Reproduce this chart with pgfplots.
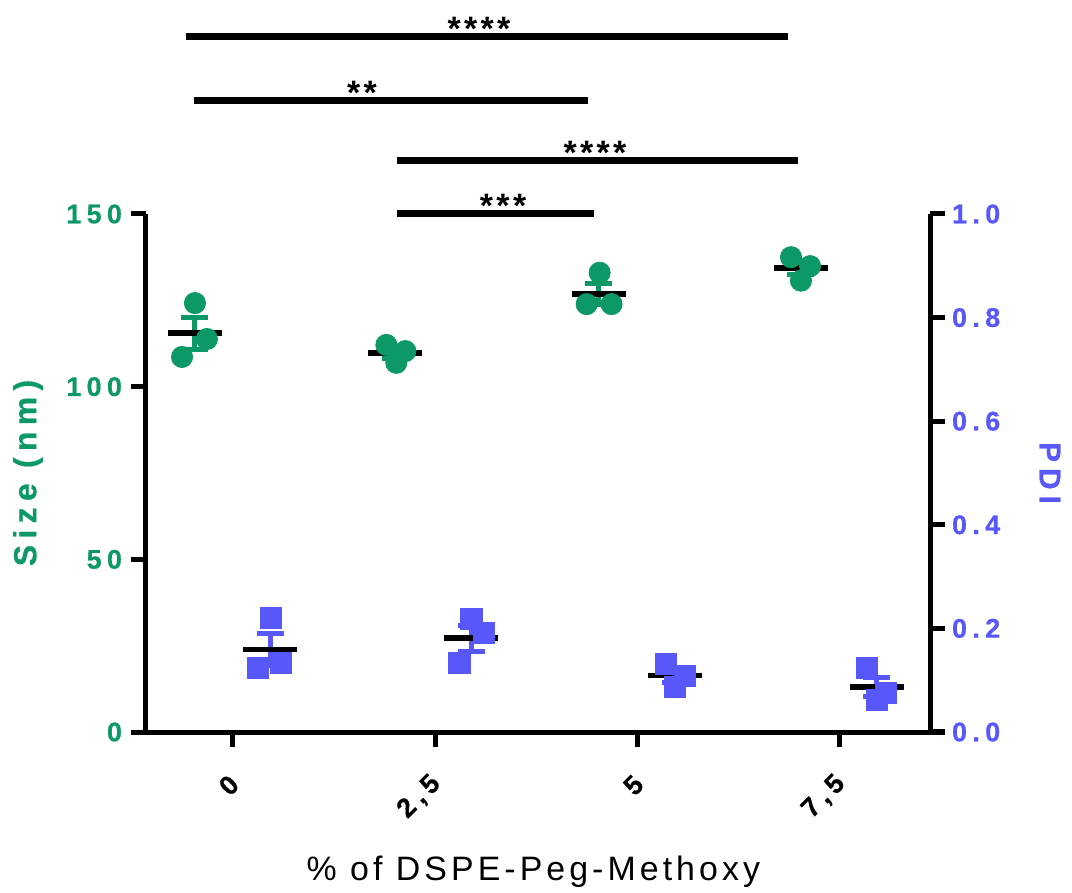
\documentclass[border=0pt]{standalone}
\usepackage{pgfplots}
\pgfplotsset{compat=1.18}
\usepackage{fontspec}
\setmainfont{Liberation Sans}
\newfontfamily\tickfont{Liberation Sans Bold}[LetterSpace=20, FakeBold=0.6]
\newfontfamily\titlefont{Liberation Sans}[LetterSpace=12]
\newfontfamily\starfont{Liberation Sans}[LetterSpace=10]
\definecolor{sizegreen}{RGB}{13,153,102}
\definecolor{pdiblue}{RGB}{87,87,250}
\pgfplotsset{
  common/.style={
    at={(0,0)}, anchor=south west,
    scale only axis, width=392bp, height=259bp,
    xmin=-0.430, xmax=3.445,
    axis line style={line width=2.5bp, -},
    tick align=outside, major tick length=7.5bp,
    tick style={line width=2.5bp, black},
    clip=false,
  }
}
\begin{document}
\begin{tikzpicture}
\useasboundingbox (-73bp,-80.5bp) rectangle (463bp,366bp);
\begin{axis}[
  common,
  ymin=0, ymax=150,
  axis x line*=bottom, axis y line*=left,
  xtick={0,1,2,3}, xticklabels={0,{2,5},5,{7,5}},
  ytick={0,50,100,150}, yticklabels={0,50,100,150},
  xticklabel style={font=\tickfont\fontsize{13.5}{15}\selectfont, xshift=3bp, yshift=-14bp, rotate=45, anchor=east},
  yticklabel style={font=\tickfont\fontsize{13.5}{15}\selectfont, text=sizegreen, anchor=east, xshift=-1bp},
  xlabel={\% of DSPE-Peg-Methoxy},
  xlabel style={font=\titlefont\fontsize{17}{20}\selectfont, at={(axis description cs:0.494,-0.270)}, anchor=center},
  ylabel={Size (nm)},
  ylabel style={font=\tickfont\fontsize{16}{18}\selectfont, text=sizegreen, at={(axis description cs:-0.1505,0.5)}, anchor=center},
]
% error bars (mean +- SEM)
\addplot[draw=none, mark=none, error bars/.cd, y dir=both, y explicit,
  error bar style={draw=sizegreen, line width=2.5bp},
  error mark options={rotate=90, mark size=6.75bp, draw=sizegreen, line width=2.5bp}]
  coordinates {(-0.19,115.5) +- (0,4.6) (0.802,109.8) +- (0,1.5) (1.807,126.9) +- (0,3.1) (2.805,134.4) +- (0,2.0)};
% means
\addplot[only marks, mark=-, mark size=13.5bp, mark options={line width=2.8bp, draw=black}]
  coordinates {(-0.19,115.5) (0.802,109.8) (1.807,126.9) (2.805,134.4)};
% replicates
\addplot[only marks, mark=*, mark size=5.3bp, mark options={fill=sizegreen, draw=sizegreen, line width=0.4bp}]
  coordinates {(-0.188,124.2) (-0.129,113.8) (-0.252,108.6)
               (0.758,112.1) (0.852,110.3) (0.807,106.9)
               (1.812,133.0) (1.748,123.9) (1.871,123.9)
               (2.758,137.5) (2.852,134.9) (2.807,130.7)};
% significance bars
\addplot[black, line width=3.5bp, mark=none] coordinates {(-0.232,201.5) (2.743,201.5)};
\addplot[black, line width=3.5bp, mark=none] coordinates {(-0.193,183.0) (1.755,183.0)};
\addplot[black, line width=3.5bp, mark=none] coordinates {(0.811,165.6) (2.793,165.6)};
\addplot[black, line width=3.5bp, mark=none] coordinates {(0.811,150.0) (1.785,150.0)};
\node[font=\starfont\bfseries\fontsize{17}{19}\selectfont, anchor=base, yshift=-2bp] at (axis cs:1.216,201.5) {****};
\node[font=\starfont\bfseries\fontsize{17}{19}\selectfont, anchor=base, yshift=-2bp] at (axis cs:0.638,183.0) {**};
\node[font=\starfont\bfseries\fontsize{17}{19}\selectfont, anchor=base, yshift=-2bp] at (axis cs:1.789,165.6) {****};
\node[font=\starfont\bfseries\fontsize{17}{19}\selectfont, anchor=base, yshift=-2bp] at (axis cs:1.335,150.0) {***};
\end{axis}
\begin{axis}[
  common,
  ymin=0, ymax=1,
  axis x line=none, axis y line*=right,
  ytick={0,0.2,0.4,0.6,0.8,1.0}, yticklabels={0.0,0.2,0.4,0.6,0.8,1.0},
  yticklabel style={font=\tickfont\fontsize{13.5}{15}\selectfont, text=pdiblue, anchor=west},
  ylabel={PDI},
  ylabel style={font=\tickfont\fontsize{15}{17}\selectfont, text=pdiblue, at={(axis description cs:1.153,0.5)}, anchor=center, rotate=180},
]
\addplot[draw=none, mark=none, error bars/.cd, y dir=both, y explicit,
  error bar style={draw=pdiblue, line width=2.5bp},
  error mark options={rotate=90, mark size=6.75bp, draw=pdiblue, line width=2.5bp}]
  coordinates {(0.185,0.159) +- (0,0.031) (1.178,0.181) +- (0,0.025) (2.185,0.109) +- (0,0.013) (3.181,0.087) +- (0,0.018)};
\addplot[only marks, mark=-, mark size=13.5bp, mark options={line width=2.8bp, draw=black}]
  coordinates {(0.185,0.159) (1.178,0.181) (2.185,0.109) (3.181,0.087)};
\addplot[only marks, mark=square*, mark size=5.3bp, mark options={fill=pdiblue, draw=pdiblue, line width=0.4bp}]
  coordinates {(0.188,0.220) (0.124,0.124) (0.237,0.133)
               (1.178,0.218) (1.242,0.191) (1.119,0.133)
               (2.138,0.131) (2.232,0.108) (2.183,0.087)
               (3.134,0.124) (3.227,0.075) (3.183,0.062)};
\end{axis}
\end{tikzpicture}
\end{document}
